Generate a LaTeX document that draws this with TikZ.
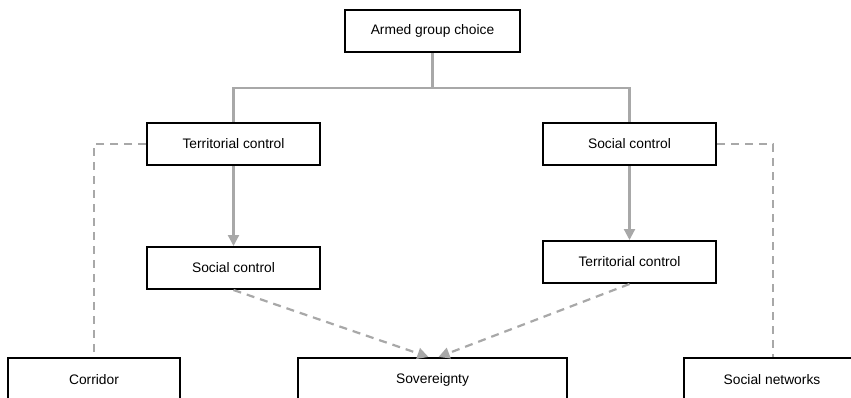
\documentclass[tikz,border=0pt]{standalone}
\usepackage{fontspec}
\setmainfont{Liberation Sans}
\usetikzlibrary{arrows.meta}
\definecolor{conn}{HTML}{A8A8A8}
\begin{document}
\begin{tikzpicture}[x=1pt,y=-1pt,
  box/.style={draw=black,line width=2pt,fill=white,minimum height=42pt,inner sep=0pt,font=\fontsize{13.8}{16}\selectfont},
  solidconn/.style={draw=conn,line width=2.2pt},
  dashconn/.style={draw=conn,line width=2.2pt,dash pattern=on 8pt off 6pt},
  tip/.style={-{Triangle[length=11pt,width=11pt]}}]
\clip (0,0) rectangle (851,397);
\fill[white] (0,0) rectangle (851,397);
\node[box,minimum width=175pt] (top) at (432.5,31) {Armed group choice};
\node[box,minimum width=173pt] (tcL) at (233.5,144) {Territorial control};
\node[box,minimum width=173pt] (scR) at (629.5,144) {Social control};
\node[box,minimum width=173pt] (scL) at (233.5,268) {Social control};
\node[box,minimum width=173pt] (tcR) at (629.5,262) {Territorial control};
\node[box,minimum width=172pt,minimum height=44pt] (cor) at (94,380) {Corridor};
\node[box,minimum width=269pt,minimum height=44pt] (sov) at (432.5,380) {Sovereignty};
\node[box,minimum width=176pt,minimum height=44pt] (soc) at (772,380) {Social networks};
\coordinate (mid) at (432.5,88);
\coordinate (sovL) at ([xshift=-4pt]sov.north);
\coordinate (sovR) at ([xshift=6pt]sov.north);
\draw[solidconn] (top.south) -- (mid) -| (tcL.north);
\draw[solidconn] (mid) -| (scR.north);
\draw[solidconn,tip] (tcL.south) -- (scL.north);
\draw[solidconn,tip] (scR.south) -- (tcR.north);
\draw[dashconn,tip] (scL.south) -- (sovL);
\draw[dashconn,tip] (tcR.south) -- (sovR);
\draw[dashconn] (tcL.west) -| (cor.north);
\draw[dashconn] (scR.east) -| ([xshift=1pt]soc.north);
\end{tikzpicture}
\end{document}
